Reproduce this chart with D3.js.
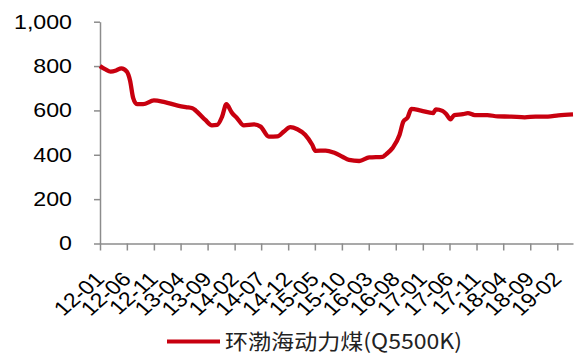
<!DOCTYPE html>
<html>
<head>
<meta charset="utf-8">
<script src="https://cdn.jsdelivr.net/npm/d3@7"></script>
<style>
  html, body { margin: 0; padding: 0; background: #fff; }
  svg { display: block; }
</style>
</head>
<body>
<svg id="chart" width="574" height="356"></svg>
<script>
// ---- data ----
const seriesName = "环渤海动力煤(Q5500K)";
const dates = [
  "2012-01-01","2012-02-01","2012-03-01","2012-04-01","2012-05-01","2012-06-01","2012-06-19",
  "2012-07-07","2012-07-28","2012-09-01","2012-11-01","2013-01-01","2013-03-16","2013-05-01",
  "2013-06-07","2013-06-25","2013-08-19","2013-09-25","2013-10-25","2013-11-22","2013-12-16",
  "2014-01-16","2014-02-16","2014-03-25","2014-05-22","2014-06-28","2014-08-13","2014-10-01",
  "2014-11-07","2014-12-13","2015-01-22","2015-03-07","2015-04-16","2015-05-04","2015-07-01",
  "2015-08-16","2015-10-04","2015-11-10","2016-01-07","2016-03-04","2016-05-19","2016-06-07",
  "2016-07-13","2016-08-22","2016-09-13","2016-10-07","2016-10-28","2016-12-22","2017-02-28",
  "2017-03-16","2017-04-22","2017-05-13","2017-06-07","2017-06-28","2017-08-16","2017-09-13",
  "2017-10-22","2018-01-01","2018-03-01","2018-05-16","2018-08-01","2018-10-01","2018-12-10",
  "2019-02-07","2019-05-01"
];
const values = [
  800,785,775,780,790,775,735,
  655,628,628,645,637,622,615,
  610,600,557,533,535,572,628,
  590,564,533,537,527,482,483,
  505,525,515,490,445,418,419,
  410,391,377,372,388,391,402,
  430,489,550,568,607,599,588,
  605,598,584,560,579,583,588,
  579,579,573,572,569,572,572,
  578,582
];
const xTickLabels = ["12-01","12-06","12-11","13-04","13-09","14-02","14-07","14-12","15-05",
  "15-10","16-03","16-08","17-01","17-06","17-11","18-04","18-09","19-02"];
const yTicks = [0, 200, 400, 600, 800, 1000];
const xDomain = ["2012-01-01", "2019-05-01"];

// ---- chart ----
const parseDate = d3.timeParse("%Y-%m-%d");
const parseTick = d3.timeParse("%y-%m");
const data = dates.map((d, i) => ({ date: parseDate(d), value: values[i] }));

const svg = d3.select("#chart");
const axisColor = "#8c8c8c";
const lineColor = "#C8000F";
const stretch = 1.16;   // text in the reference is widened horizontally

const x = d3.scaleTime().domain(xDomain.map(parseDate)).range([100, 573]);
const y = d3.scaleLinear().domain([0, 1000]).range([243.5, 21.7]);

// y axis
const gy = svg.append("g").attr("transform", "translate(100,0)")
  .call(d3.axisLeft(y).tickValues(yTicks).tickFormat(d3.format(","))
    .tickSizeInner(6).tickSizeOuter(0).tickPadding(22));
gy.select(".domain").attr("stroke", axisColor).attr("stroke-width", 1.5);
gy.selectAll(".tick line").attr("stroke", axisColor).attr("stroke-width", 1.5);
gy.selectAll(".tick text")
  .attr("font-family", "'Liberation Sans', Arial, sans-serif")
  .attr("font-size", 20).attr("fill", "#000")
  .attr("x", 0)
  .attr("transform", `translate(-28,0) scale(${stretch},1)`);

// x axis
const gx = svg.append("g").attr("transform", "translate(0,243.5)")
  .call(d3.axisBottom(x).tickValues(xTickLabels.map(parseTick))
    .tickFormat(d3.timeFormat("%y-%m")).tickSizeInner(7).tickSizeOuter(0));
gx.select(".domain").attr("stroke", axisColor).attr("stroke-width", 1.5);
gx.selectAll(".tick line").attr("stroke", axisColor).attr("stroke-width", 1.5);
gx.selectAll(".tick text")
  .attr("font-family", "'Liberation Sans', Arial, sans-serif")
  .attr("font-size", 20).attr("fill", "#000")
  .attr("text-anchor", "end")
  .attr("dy", null).attr("y", null)
  .attr("transform", `translate(5,37) scale(${stretch},1) rotate(-45)`);

// line
const line = d3.line().x(d => x(d.date)).y(d => y(d.value)).curve(d3.curveMonotoneX);
svg.append("path").datum(data)
  .attr("d", line)
  .attr("fill", "none")
  .attr("stroke", lineColor)
  .attr("stroke-width", 4.3)
  .attr("stroke-linejoin", "round");

// legend
const lg = svg.append("g");
lg.append("line").attr("x1", 167).attr("x2", 220).attr("y1", 341.5).attr("y2", 341.5)
  .attr("stroke", lineColor).attr("stroke-width", 4);
lg.append("text").attr("x", 225).attr("y", 349)
  .attr("font-family", "'Noto Sans CJK SC', sans-serif")
  .attr("font-size", 21).attr("fill", "#222")
  .attr("textLength", 237).attr("lengthAdjust", "spacingAndGlyphs")
  .text(seriesName);
</script>
</body>
</html>
